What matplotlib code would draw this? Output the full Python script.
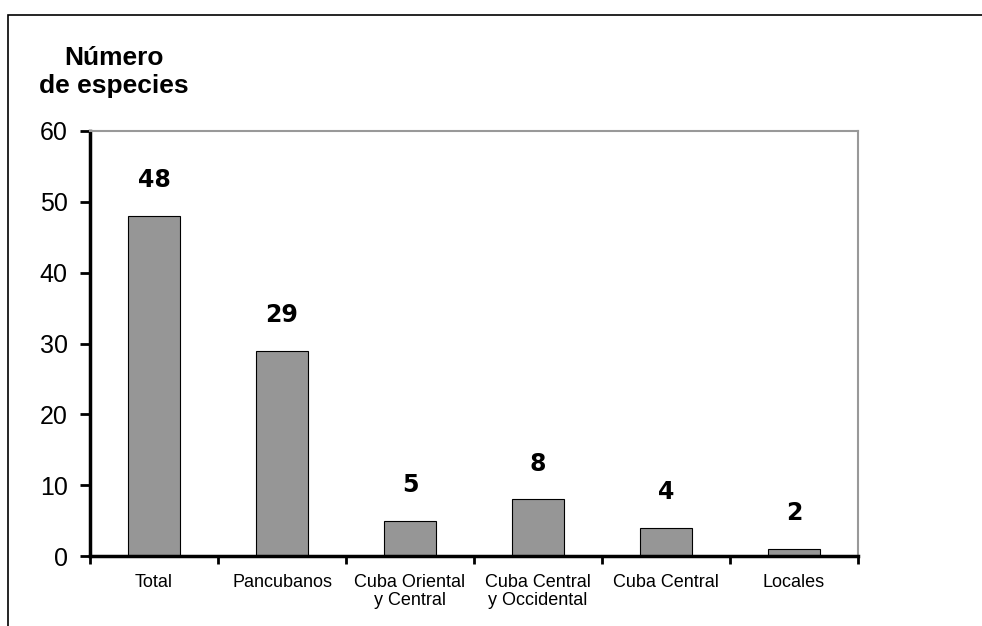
import matplotlib.pyplot as plt
from matplotlib.patches import Rectangle

# data
categories = ['Total', 'Pancubanos', 'Cuba Oriental\ny Central',
              'Cuba Central\ny Occidental', 'Cuba Central', 'Locales']
bar_values = [48, 29, 5, 8, 4, 1]
bar_labels = ['48', '29', '5', '8', '4', '2']
y_ticks = [0, 10, 20, 30, 40, 50, 60]

plt.rcParams['font.family'] = ['Liberation Sans', 'DejaVu Sans']

fig = plt.figure(figsize=(9.82, 6.26), dpi=100)
ax = fig.add_axes([90 / 982, 1 - 556 / 626, 768 / 982, 425 / 626])

x = list(range(len(categories)))
bars = ax.bar(x, bar_values, width=0.41, color='#969696',
              edgecolor='black', linewidth=0.8)

for b, lab in zip(bars, bar_labels):
    ax.annotate(lab, (b.get_x() + b.get_width() / 2, b.get_height()),
                xytext=(0, 17), textcoords='offset points',
                ha='center', va='bottom', fontsize=17,
                fontweight='heavy', family='DejaVu Sans')

ax.set_xlim(-0.5, len(categories) - 0.5)
ax.set_ylim(0, 60)
ax.set_yticks(y_ticks)
ax.tick_params(axis='y', labelsize=18, length=7, width=2, direction='out', pad=9)

# x ticks at the category boundaries, labels centred under bars
ax.set_xticks([i - 0.5 for i in range(len(categories) + 1)])
ax.set_xticklabels([])
ax.set_xticks(x, minor=True)
ax.set_xticklabels(categories, minor=True, fontsize=13, linespacing=1.1)
ax.tick_params(axis='x', which='major', length=6, width=2, direction='out')
ax.tick_params(axis='x', which='minor', length=0, pad=13)

for side in ['left', 'bottom']:
    ax.spines[side].set_linewidth(2.5)
    ax.spines[side].set_color('black')
for side in ['top', 'right']:
    ax.spines[side].set_linewidth(1.5)
    ax.spines[side].set_color('#999999')

fig.text(114 / 982, 1 - 72 / 626, 'Número\nde especies', ha='center',
         va='center', fontsize=19, fontweight='bold', linespacing=1.25)

# outer frame of the chart area
fig.add_artist(Rectangle((8 / 982, -0.2), 1.2, 1.2 - 15 / 626,
                         transform=fig.transFigure, fill=False,
                         edgecolor='black', linewidth=1.2))

fig.savefig('out.png', dpi=100)
